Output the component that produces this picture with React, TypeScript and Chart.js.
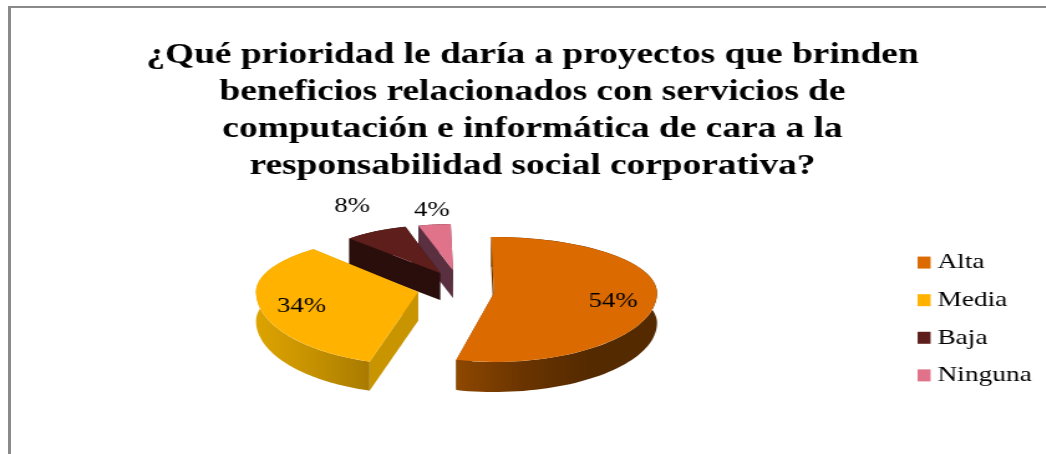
import React, { useEffect, useRef } from "react";
import { Chart, registerables } from "chart.js";

Chart.register(...registerables);

const titleLines = [
  "¿Qué prioridad le daría a proyectos que brinden",
  "beneficios relacionados con servicios de",
  "computación e informática de cara a la",
  "responsabilidad social corporativa?",
];
const categories = ["Alta", "Media", "Baja", "Ninguna"];
const shares = [54, 34, 8, 4];
const topColors = ["#DB6A00", "#FFB300", "#5E1F1C", "#E0728A"];

// The reference is a horizontally stretched picture: the canvas is stretched the same way.
const STRETCH = 1.245;
const CANVAS_WIDTH = 860;

// Per-slice look of the tilted, exploded drawing in page pixels (not data).
const apexX = [494, 418, 440, 453];
const apexY = [293, 292, 273, 270];
const radiusX = [163, 162, 130, 130];
const radiusBack = [56, 56, 48, 46];
const radiusFront = [69, 73, 48, 46];
const depths = [30, 29, 27, 28];
const twistDegrees = [0, 4, 0, 0];
const cutColors = ["#6A3500", "#C89400", "#2A0E0C", "#5A3040"];
const wallStops = [
  ["#8E4800", "#6A3400", "#542A00", "#552A00"],
  ["#DCA300", "#CF9800", "#BC8A00", "#A87A00"],
  ["#2A0E0C", "#2A0E0C", "#2A0E0C", "#2A0E0C"],
  ["#5A3040", "#5A3040", "#5A3040", "#5A3040"],
];
const labelReach = [0.735, 0.733, 1.36, 1.15];
const labelShift = [3, 4, -10, -7];

const pie3d = {
  id: "pie3d",
  beforeDatasetsDraw(chart: any) {
    const ctx = chart.ctx;
    const arcs = chart.getDatasetMeta(0).data;
    const order = [3, 2, 1, 0];
    ctx.save();
    ctx.scale(1 / STRETCH, 1);
    for (const i of order) {
      const arc = arcs[i];
      const { outerRadius } = arc;
      const twist = (twistDegrees[i] * Math.PI) / 180;
      const startAngle = arc.startAngle + twist;
      const endAngle = arc.endAngle + twist;
      const ax = apexX[i], ay = apexY[i], rx = radiusX[i];
      const px = (a: number) => ax + rx * Math.cos(a);
      const py = (a: number) =>
        ay + (Math.sin(a) < 0 ? radiusBack[i] : radiusFront[i]) * Math.sin(a);
      const d = depths[i];
      const outline: [number, number][] = [];
      const steps = 90;
      for (let s = 0; s <= steps; s++) {
        const a = startAngle + ((endAngle - startAngle) * s) / steps;
        outline.push([px(a), py(a)]);
      }
      // radial cut faces
      ctx.save();
      ctx.fillStyle = cutColors[i];
      for (const a of [startAngle, endAngle]) {
        ctx.beginPath();
        ctx.moveTo(ax, ay);
        ctx.lineTo(px(a), py(a));
        ctx.lineTo(px(a), py(a) + d);
        ctx.lineTo(ax, ay + d);
        ctx.closePath();
        ctx.fill();
      }
      // curved outer wall
      const xs = outline.map((p) => p[0]);
      const stops = wallStops[i];
      const minX = Math.min(...xs), maxX = Math.max(...xs);
      const grad = ctx.createLinearGradient(minX, 0, maxX, 0);
      stops.forEach((c: string, k: number) => grad.addColorStop(k / (stops.length - 1), c));
      ctx.fillStyle = grad;
      ctx.beginPath();
      outline.forEach((p, k) => (k ? ctx.lineTo(p[0], p[1]) : ctx.moveTo(p[0], p[1])));
      for (let k = outline.length - 1; k >= 0; k--) ctx.lineTo(outline[k][0], outline[k][1] + d);
      ctx.closePath();
      ctx.fill();
      ctx.restore();

      // top face, drawn by the library's arc element (back half, then front half)
      const halves = [
        { y: 0, h: ay, r: radiusBack[i] },
        { y: ay, h: chart.height - ay, r: radiusFront[i] },
      ];
      for (const half of halves) {
        ctx.save();
        ctx.beginPath();
        ctx.rect(0, half.y, chart.width * STRETCH, half.h);
        ctx.clip();
        ctx.translate(ax, ay);
        ctx.scale(rx / outerRadius, half.r / outerRadius);
        ctx.rotate(twist);
        ctx.translate(-arc.x, -arc.y);
        arc.draw(ctx);
        ctx.restore();
      }
    }
    ctx.restore();
    // percentage labels
    ctx.save();
    ctx.fillStyle = "#000";
    ctx.font = "21.5px 'Liberation Serif'";
    ctx.textAlign = "center";
    ctx.textBaseline = "middle";
    arcs.forEach((arc: any, i: number) => {
      const twist = (twistDegrees[i] * Math.PI) / 180;
      const mid = (arc.startAngle + arc.endAngle) / 2 + twist;
      const f = labelReach[i];
      const x = apexX[i] + radiusX[i] * Math.cos(mid) * f;
      const r = Math.sin(mid) < 0 ? radiusBack[i] : radiusFront[i];
      const y = apexY[i] + r * Math.sin(mid) * f + labelShift[i];
      ctx.fillText(shares[i] + "%", x / STRETCH, y);
    });
    ctx.restore();
    return false;
  },
  afterDraw(chart: any) {
    // legend swatches sit on the library's legend rows
    const ctx = chart.ctx;
    const boxes = chart.legend.legendHitBoxes;
    ctx.save();
    boxes.forEach((b: any, i: number) => {
      ctx.fillStyle = topColors[i];
      ctx.fillRect(b.left, b.top + b.height / 2 - 6, 13 / STRETCH, 12);
    });
    ctx.restore();
  },
};

export default function App() {
  const ref = useRef<HTMLCanvasElement>(null);
  useEffect(() => {
    document.body.style.overflow = "hidden";
    const chart = new Chart(ref.current!, {
      type: "pie",
      data: {
        labels: categories,
        datasets: [{ data: shares, backgroundColor: topColors, borderWidth: 0, hoverOffset: 0 }],
      },
      options: {
        animation: false,
        responsive: false,
        rotation: -1,
        layout: { padding: { left: 16.7, right: 21.3, top: 37, bottom: 9 } },
        plugins: {
          title: {
            display: true,
            text: titleLines,
            color: "#000",
            font: { family: "'Liberation Serif'", size: 30, weight: "bold", lineHeight: 1.233 },
            padding: { top: 0, bottom: 8 },
          },
          legend: {
            position: "right",
            align: "center",
            fullSize: false,
            labels: {
              color: "#000",
              boxWidth: 4.9,
              boxHeight: 12,
              padding: 15.6,
              font: { family: "'Liberation Serif'", size: 22 },
              generateLabels: (c: any) =>
                (Chart as any).overrides.pie.plugins.legend.labels
                  .generateLabels(c)
                  .map((l: any) => ({ ...l, fillStyle: "rgba(0,0,0,0)" })),
            },
          },
          tooltip: { enabled: false },
        },
      },
      plugins: [pie3d],
    } as any);
    return () => chart.destroy();
  }, []);
  return (
    <>
      <div
        style={{
          position: "absolute",
          left: 8,
          top: 6,
          right: 0,
          bottom: 0,
          borderLeft: "3px solid #8A8A8A",
          borderTop: "2px solid #8A8A8A",
        }}
      />
      <canvas
        ref={ref}
        width={CANVAS_WIDTH}
        height={454}
        style={{
          position: "absolute",
          left: 0,
          top: 0,
          width: CANVAS_WIDTH,
          height: 454,
          transform: `scaleX(${STRETCH})`,
          transformOrigin: "0 0",
        }}
      />
    </>
  );
}
